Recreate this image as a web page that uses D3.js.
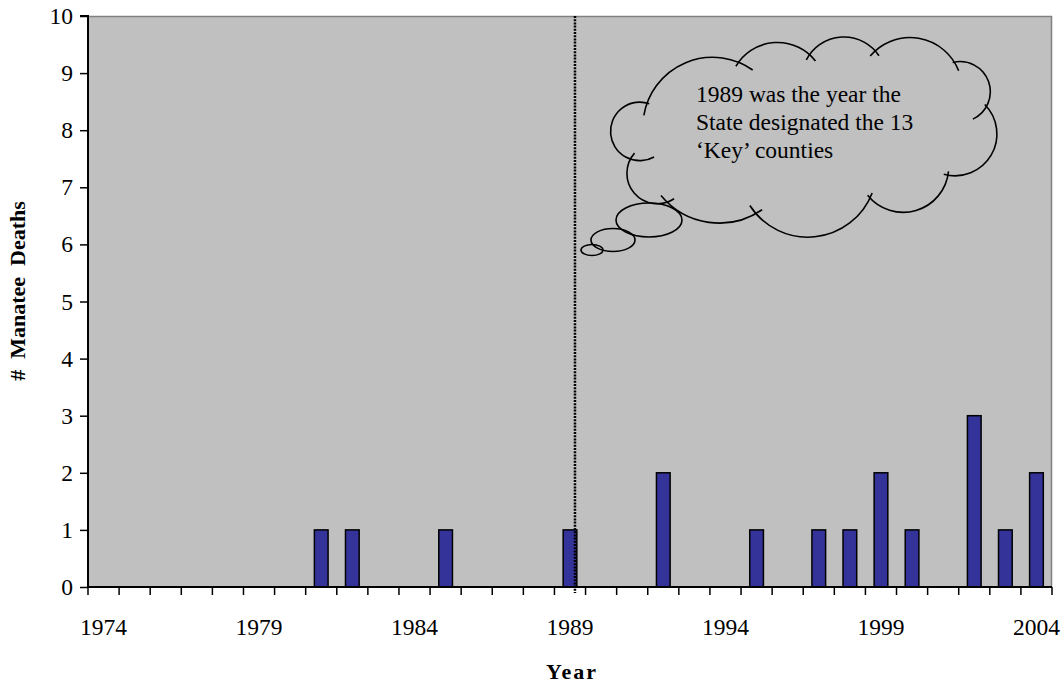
<!DOCTYPE html>
<html><head><meta charset="utf-8">
<script src="https://cdn.jsdelivr.net/npm/d3@7"></script>
<style>
html,body{margin:0;padding:0;background:#fff;}
svg{display:block;}
text{font-family:"Liberation Serif","Times New Roman",serif;fill:#000;}
</style></head>
<body>
<svg id="chart" width="1064" height="685"></svg>
<script>
// ---- data ----
const years = d3.range(1974, 2005).map(String);
const deathYears = ["1981","1982","1985","1989","1992","1995","1997","1998","1999","2000","2002","2003","2004"];
const deathValues = [1,1,1,1,2,1,1,1,2,1,3,1,2];
const yTicks = [0,1,2,3,4,5,6,7,8,9,10];
const xTickLabels = ["1974","1979","1984","1989","1994","1999","2004"];
const markerYear = "1989";
const noteLines = ["1989 was the year the","State designated the 13","\u2018Key\u2019 counties"];
const xTitle = "Year";
const yTitle = "#  Manatee  Deaths";

const svg = d3.select("#chart");
const L = 88, R = 1052, T = 16, B = 587;

const x = d3.scaleBand().domain(years).range([L, R]).padding(0);
const y = d3.scaleLinear().domain([0, 10]).range([B, T]);
const bw = x.bandwidth();

// plot background
svg.append("rect").attr("x", L).attr("y", T).attr("width", R - L).attr("height", B - T)
  .attr("fill", "#c0c0c0");
// gray border top/right
svg.append("path").attr("d", `M${L},${T + 0.5}H${R - 0.5}V${B}`)
  .attr("fill", "none").attr("stroke", "#808080").attr("stroke-width", 1.5);

// bars
const barData = deathYears.map((yr, i) => ({year: yr, v: deathValues[i]}));
const barW = bw * 0.44;
svg.append("g").selectAll("rect").data(barData).join("rect")
  .attr("x", d => x(d.year) + bw / 2 - barW / 2)
  .attr("y", d => y(d.v))
  .attr("width", barW)
  .attr("height", d => y(0) - y(d.v))
  .attr("fill", "#333399")
  .attr("stroke", "#000").attr("stroke-width", 1.5);

// y axis
const yAxis = d3.axisLeft(y).tickValues(yTicks).tickSize(8).tickPadding(7).tickFormat(d3.format("d"));
const gy = svg.append("g").attr("transform", `translate(${L},0)`).call(yAxis);
gy.select(".domain").attr("stroke", "#000").attr("stroke-width", 2).attr("d", `M-8,${T}H0V${B}`);
gy.selectAll(".tick line").attr("stroke", "#000").attr("stroke-width", 1.5);
gy.selectAll(".tick text").attr("font-size", 23.5).attr("font-family", "Liberation Serif").attr("fill", "#000");

// x axis: ticks at category boundaries
const gx = svg.append("g");
gx.append("line").attr("x1", L - 1).attr("x2", R).attr("y1", B).attr("y2", B)
  .attr("stroke", "#000").attr("stroke-width", 2);
const boundaries = years.map(d => x(d)).concat([x.range()[1]]);
gx.selectAll("line.tk").data(boundaries).join("line").attr("class", "tk")
  .attr("x1", d => d).attr("x2", d => d).attr("y1", B).attr("y2", B + 8)
  .attr("stroke", "#000").attr("stroke-width", 1.5);
gx.selectAll("text").data(xTickLabels).join("text")
  .attr("x", d => x(d) + bw / 2).attr("y", 635)
  .attr("text-anchor", "middle").attr("font-size", 23.5).text(d => d);

// axis titles
svg.append("text").attr("x", 572).attr("y", 679).attr("text-anchor", "middle")
  .attr("font-size", 22).attr("font-weight", "bold").attr("letter-spacing", 2).text(xTitle);
svg.append("text").attr("transform", "translate(25,291) rotate(-90)").attr("text-anchor", "middle")
  .attr("font-size", 22).attr("font-weight", "bold").attr("xml:space", "preserve")
  .style("white-space", "pre").text(yTitle);

// dotted marker line
const mx = x(markerYear) + bw * 0.66;
svg.append("line").attr("x1", mx).attr("x2", mx).attr("y1", T).attr("y2", B + 6)
  .attr("stroke", "#000").attr("stroke-width", 2.5).attr("stroke-dasharray", "2,1.2");

// cloud callout
const bumps = [
  [[645,110],[748,67],28],
  [[738,63],[813,58],18],
  [[808,57],[877,53],18],
  [[873,53],[957,67],22],
  [[955,62],[975,118],25],
  [[987,107],[947,175],28],
  [[948,175],[870,198],25],
  [[870,198],[753,210],33],
  [[757,213],[665,200],16],
  [[672,200],[633,155],24],
  [[652,158],[647,103],39]
];
const cloud = svg.append("g").attr("fill", "none").attr("stroke", "#000").attr("stroke-width", 1.6);
bumps.forEach(([A, Bp, s]) => {
  const dx = Bp[0] - A[0], dy = Bp[1] - A[1];
  const d = Math.hypot(dx, dy);
  const half = d / 2;
  const r = (s * s + half * half) / (2 * s);
  const nx = -dy / d, ny = dx / d; // inside normal
  const mxp = (A[0] + Bp[0]) / 2, myp = (A[1] + Bp[1]) / 2;
  const cx = mxp + nx * (r - s), cy = myp + ny * (r - s);
  let a0 = Math.atan2(A[1] - cy, A[0] - cx);
  let a1 = Math.atan2(Bp[1] - cy, Bp[0] - cx);
  while (a1 <= a0) a1 += 2 * Math.PI;
  const p = d3.path();
  const dl = 0.08;
  p.moveTo(cx + r * Math.cos(a0 - dl), cy + r * Math.sin(a0 - dl));
  p.arc(cx, cy, r, a0 - dl, a1 + dl, false);
  cloud.append("path").attr("d", p.toString());
});
const bubbles = [[649,220,33,17],[613,240,22,11.5],[592,250,11,5.5]];
cloud.selectAll("ellipse").data(bubbles).join("ellipse")
  .attr("cx", d => d[0]).attr("cy", d => d[1]).attr("rx", d => d[2]).attr("ry", d => d[3]);

svg.append("g").selectAll("text").data(noteLines).join("text")
  .attr("x", 696).attr("y", (d, i) => 102 + i * 28)
  .attr("font-size", 23.5).text(d => d);
</script>
</body></html>
